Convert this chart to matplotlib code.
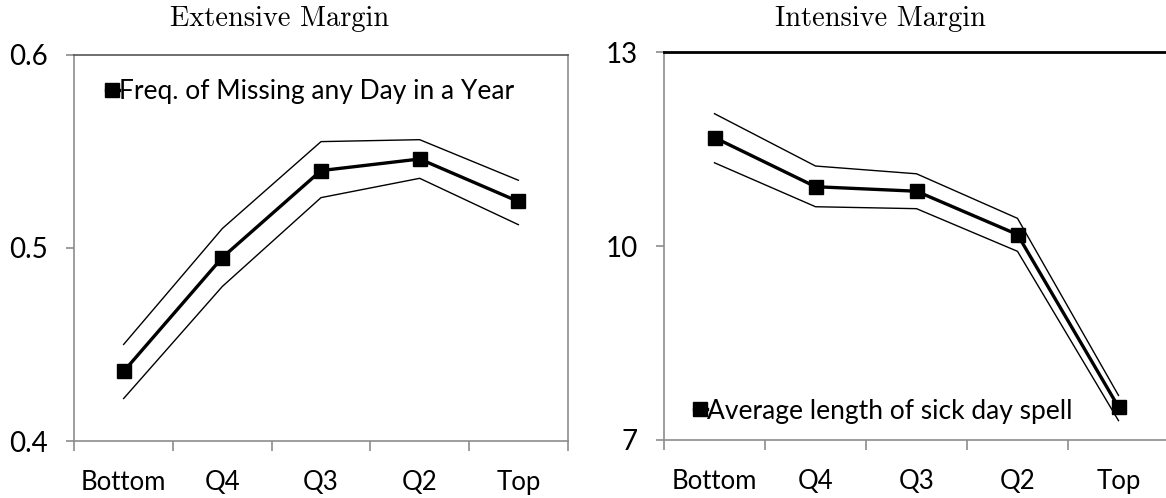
import matplotlib
matplotlib.use("Agg")
import matplotlib.pyplot as plt
import numpy as np

# Income quintile categories
categories = ["Bottom", "Q4", "Q3", "Q2", "Top"]

# Extensive margin: share missing any day in a year, with confidence bounds
ext_mean = [0.436, 0.495, 0.540, 0.546, 0.524]
ext_upper = [0.450, 0.510, 0.555, 0.556, 0.535]
ext_lower = [0.422, 0.480, 0.526, 0.536, 0.512]

# Intensive margin: average length of sick day spell, with confidence bounds
int_mean = [11.68, 10.92, 10.85, 10.18, 7.51]
int_upper = [12.05, 11.24, 11.12, 10.43, 7.69]
int_lower = [11.29, 10.61, 10.58, 9.92, 7.30]

ext_label = "Freq. of Missing any Day in a Year"
int_label = "Average length of sick day spell"

TICK_FONT = "Lato"
TITLE_FONT = "cmr10"
GRAY = "#8c8c8c"

W, H = 1166, 498
fig = plt.figure(figsize=(W / 100, H / 100), dpi=100)


def px_axes(x0, y_top, x1, y_bot):
    return fig.add_axes([x0 / W, 1 - y_bot / H, (x1 - x0) / W, (y_bot - y_top) / H])


def style_axes(ax, ylim, yticks, ylabels):
    x = np.arange(len(categories))
    ax.set_xlim(-0.5, len(categories) - 0.5)
    ax.set_ylim(*ylim)
    ax.set_yticks(yticks)
    ax.set_yticklabels(ylabels, fontfamily=TICK_FONT, fontsize=20)
    ax.set_xticks(x)
    ax.set_xticklabels(categories, fontfamily=TICK_FONT, fontsize=18.5)
    ax.set_xticks(np.arange(len(categories) + 1) - 0.5, minor=True)
    ax.tick_params(axis="x", which="major", length=0, pad=21)
    ax.tick_params(axis="x", which="minor", length=7, color=GRAY, width=1.2, direction="out")
    ax.tick_params(axis="y", length=6, color=GRAY, width=1.2, direction="out", pad=13)
    for s in ax.spines.values():
        s.set_color(GRAY)
        s.set_linewidth(1.2)
    return x


def draw(ax, x, mean, upper, lower, label):
    ax.plot(x, upper, color="black", lw=1.0)
    ax.plot(x, lower, color="black", lw=1.0)
    ax.plot(x, mean, color="black", lw=2.4, marker="s", markersize=10,
            markerfacecolor="black", label=label)


# Left panel
axL = px_axes(74.3, 54.7, 567.7, 441)
xL = style_axes(axL, (0.4, 0.6), [0.4, 0.5, 0.6], ["0.4", "0.5", "0.6"])
draw(axL, xL, ext_mean, ext_upper, ext_lower, ext_label)
axL.spines["top"].set_color("#555555")
axL.legend(loc="upper left", bbox_to_anchor=(0.042, 0.965), frameon=False,
           handlelength=0.5, handletextpad=0.0, borderaxespad=0,
           prop={"family": TICK_FONT, "size": 19})

# Right panel (frame runs past the right edge of the figure)
axR = px_axes(664, 52.3, 1169, 440)
xR = style_axes(axR, (7, 13), [7, 10, 13], ["7", "10", "13"])
draw(axR, xR, int_mean, int_upper, int_lower, int_label)
axR.spines["top"].set_color("black")
axR.spines["top"].set_linewidth(2.0)
axR.legend(loc="lower left", bbox_to_anchor=(0.038, 0.015), frameon=False,
           handlelength=0.5, handletextpad=0.0, borderaxespad=0,
           prop={"family": TICK_FONT, "size": 19})

fig.text(280 / W, 1 - 19 / H, "Extensive Margin", family=TITLE_FONT, fontsize=20.5,
         ha="center", va="center")
fig.text(880 / W, 1 - 19 / H, "Intensive Margin", family=TITLE_FONT, fontsize=20.5,
         ha="center", va="center")

fig.savefig("out.png", dpi=100)
